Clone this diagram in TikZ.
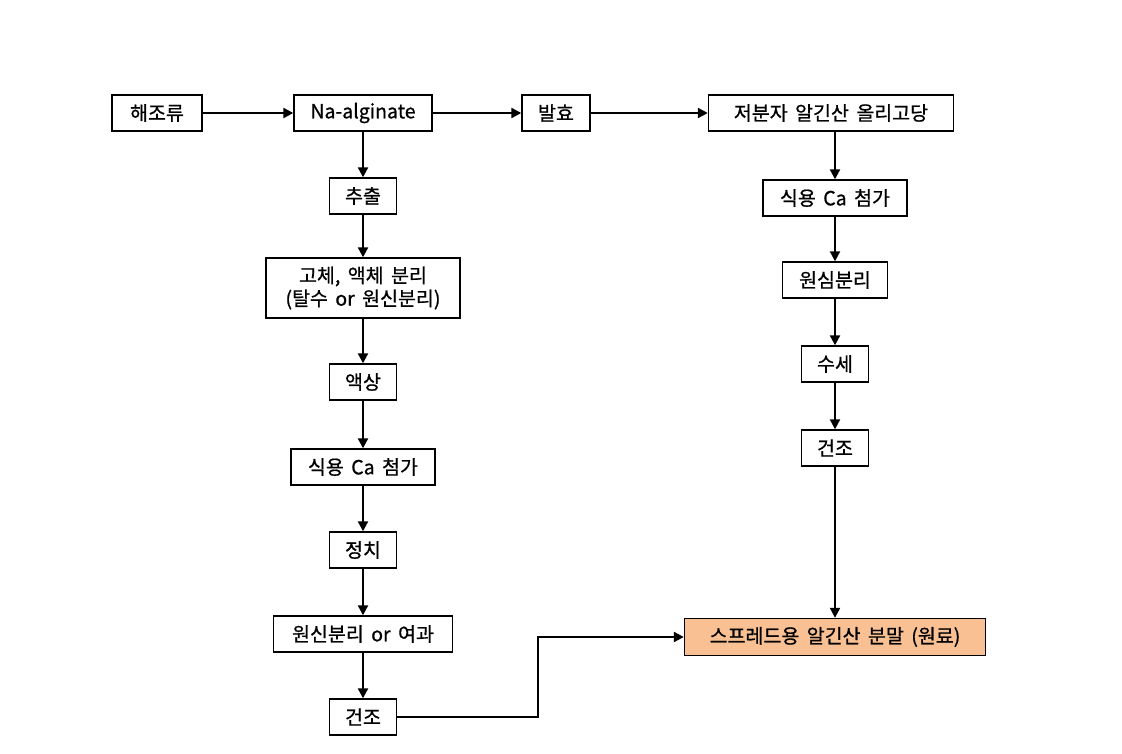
\documentclass[tikz,border=0pt]{standalone}
\usepackage{fontspec}
\setmainfont{Noto Sans CJK KR}[WordSpace=1.7,FakeBold=0.8]
\usetikzlibrary{arrows.meta,positioning}
\definecolor{finalfill}{HTML}{F9C193}
\tikzset{
  box/.style={draw=black, line width=1.4pt, fill=white, inner sep=0pt, align=center,
    font=\fontsize{19.5}{23}\selectfont},
  conn/.style={draw=black, line width=2.2pt, -{Triangle[length=10pt,width=10pt]}},
}
\begin{document}
\begin{tikzpicture}[x=1pt,y=-1pt]
\useasboundingbox (0,0) rectangle (1122,753);
% left column
\node[box, minimum width=90pt, minimum height=36pt] (a) at (157,113) {해조류};
\node[box, minimum width=138pt, minimum height=36pt] (b) at (363,113) {Na-alginate};
\node[box, minimum width=68pt, minimum height=36pt] (c) at (556,113) {발효};
\node[box, minimum width=245pt, minimum height=36pt] (d) at (831,113) {저분자 알긴산 올리고당};
\node[box, minimum width=67pt, minimum height=36pt] (e) at (363,196) {추출};
\node[box, minimum width=194pt, minimum height=60pt] (f) at (363,288) {고체, 액체 분리\\(탈수 or 원신분리)};
\node[box, minimum width=67pt, minimum height=36pt] (g) at (363,382) {액상};
\node[box, minimum width=144pt, minimum height=36pt] (h) at (363,467) {식용 Ca 첨가};
\node[box, minimum width=67pt, minimum height=36pt] (i) at (363,550) {정치};
\node[box, minimum width=179pt, minimum height=36pt] (j) at (363,634) {원신분리 or 여과};
\node[box, minimum width=67pt, minimum height=36pt] (k) at (363,717) {건조};
% right column
\node[box, minimum width=144pt, minimum height=36pt] (l) at (835,198) {식용 Ca 첨가};
\node[box, minimum width=105pt, minimum height=36pt] (m) at (835,280) {원심분리};
\node[box, minimum width=67pt, minimum height=36pt] (n) at (835,364) {수세};
\node[box, minimum width=67pt, minimum height=36pt] (o) at (835,448) {건조};
\node[box, fill=finalfill, minimum width=301pt, minimum height=37pt] (p) at (835,637) {스프레드용 알긴산 분말 (원료)};
% connectors
\draw[conn] (a) -- (b);
\draw[conn] (b) -- (c);
\draw[conn] (c) -- (d);
\draw[conn] (b) -- (e);
\draw[conn] (e) -- (f);
\draw[conn] (f) -- (g);
\draw[conn] (g) -- (h);
\draw[conn] (h) -- (i);
\draw[conn] (i) -- (j);
\draw[conn] (j) -- (k);
\draw[conn] (d.south -| l) -- (l);
\draw[conn] (l) -- (m);
\draw[conn] (m) -- (n);
\draw[conn] (n) -- (o);
\draw[conn] (o) -- (p);
\coordinate (bend) at (538,717);
\draw[conn] (k.east) -- (bend) |- (p.west);
\end{tikzpicture}
\end{document}
